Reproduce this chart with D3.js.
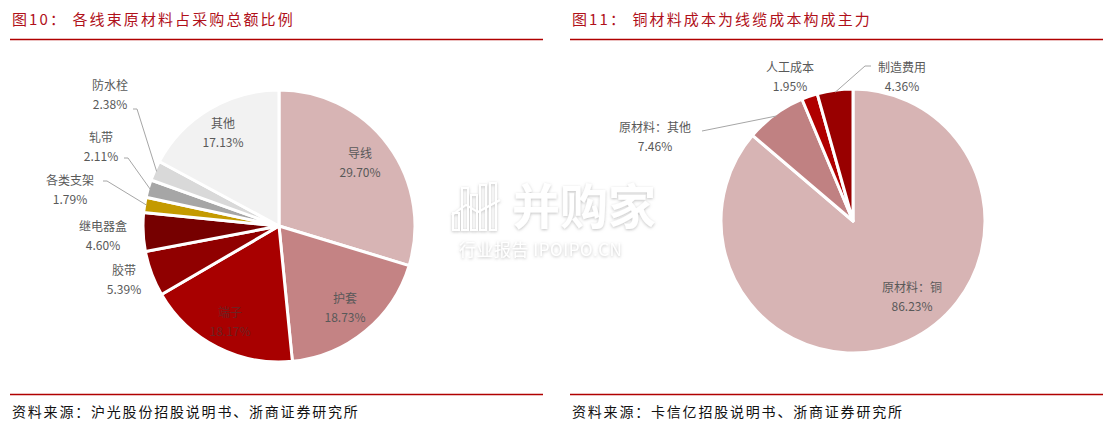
<!DOCTYPE html>
<html><head><meta charset="utf-8">
<script src="https://cdn.jsdelivr.net/npm/d3@7"></script>
<style>
html,body{margin:0;padding:0;background:#fff;}
svg{display:block;}
</style></head>
<body>
<svg id="c" width="1110" height="431"></svg>
<script>
// ---- Data ----
const leftTitle = "图10：  各线束原材料占采购总额比例";
const rightTitle = "图11：  铜材料成本为线缆成本构成主力";
const leftSource = "资料来源：沪光股份招股说明书、浙商证券研究所";
const rightSource = "资料来源：卡信亿招股说明书、浙商证券研究所";

const leftCategories = ["导线","护套","端子","胶带","继电器盒","各类支架","轧带","防水栓","其他"];
const leftValues = [29.70, 18.73, 18.17, 5.39, 4.60, 1.79, 2.11, 2.38, 17.13];
const leftColors = ["#d7b4b4","#c48384","#a80000","#900000","#760000","#c49a00","#a6a6a6","#d9d9d9","#f2f2f2"];

const rightCategories = ["原材料：铜","原材料：其他","人工成本","制造费用"];
const rightValues = [86.23, 7.46, 1.95, 4.36];
const rightColors = ["#d7b4b4","#c08182","#b00000","#990000"];

// ---- Layout ----
const svg = d3.select("#c");
const titleColor = "#b0101a";
const lineColor = "#b00000";
const labelColor = "#595959";
const cjk = "'Noto Sans CJK SC','Noto Sans',sans-serif";

function panel(x0, x1, title, source) {
  svg.append("text").attr("x", x0 + 2).attr("y", 25)
    .attr("font-family", cjk).attr("font-size", 15).attr("letter-spacing", 2.1)
    .attr("fill", titleColor).text(title);
  svg.append("line").attr("x1", x0).attr("x2", x1).attr("y1", 39.5).attr("y2", 39.5)
    .attr("stroke", lineColor).attr("stroke-width", 1.3);
  svg.append("line").attr("x1", x0).attr("x2", x1).attr("y1", 394.5).attr("y2", 394.5)
    .attr("stroke", lineColor).attr("stroke-width", 1.3);
  svg.append("text").attr("x", x0 + 2).attr("y", 417)
    .attr("font-family", cjk).attr("font-size", 14).attr("letter-spacing", 1.8)
    .attr("fill", "#111").text(source);
}
panel(10, 543, leftTitle, leftSource);
panel(570, 1103, rightTitle, rightSource);

function drawPie(cx, cy, r, cats, vals, colors, labels) {
  const pie = d3.pie().sort(null).value(d => d)(vals);
  const arc = d3.arc().innerRadius(0).outerRadius(r);
  const g = svg.append("g").attr("transform", `translate(${cx},${cy})`);
  g.selectAll("path").data(pie).join("path")
    .attr("d", arc).attr("fill", (d, i) => colors[i])
    .attr("stroke", "#fff").attr("stroke-width", 3).attr("stroke-linejoin", "round");
  pie.forEach((d, i) => {
    const L = labels[cats[i]];
    if (!L) return;
    const pct = vals[i].toFixed(2) + "%";
    const t = svg.append("text").attr("font-family", cjk).attr("font-size", 12)
      .attr("fill", L.color || labelColor).attr("text-anchor", "middle");
    t.append("tspan").attr("x", L.x).attr("y", L.y).text(cats[i]);
    t.append("tspan").attr("x", L.x).attr("y", L.y + 19).text(pct);
    if (L.leader) {
      const a = (d.startAngle + d.endAngle) / 2;
      const ex = cx + (r - 2) * Math.sin(a), ey = cy - (r - 2) * Math.cos(a);
      const [lx, ly] = L.leader;
      svg.append("path")
        .attr("d", `M${lx},${ly}L${lx + (L.hook || 0)},${ly}L${ex},${ey}`)
        .attr("fill", "none").attr("stroke", "#a6a6a6").attr("stroke-width", 1);
    }
  });
}

const leftLabels = {
  "导线": {x: 360, y: 158},
  "护套": {x: 345, y: 303},
  "端子": {x: 230, y: 317, color: "#6e2222"},
  "胶带": {x: 124, y: 275},
  "继电器盒": {x: 103, y: 231},
  "各类支架": {x: 70, y: 185, leader: [103, 181], hook: 4},
  "轧带": {x: 101, y: 142, leader: [124, 158], hook: 4},
  "防水栓": {x: 110, y: 90, leader: [133, 109], hook: 4},
  "其他": {x: 223, y: 128}
};
drawPie(279, 226, 136, leftCategories, leftValues, leftColors, leftLabels);

const rightLabels = {
  "原材料：铜": {x: 912, y: 292},
  "原材料：其他": {x: 655, y: 132, leader: [702, 131], hook: 0},
  "人工成本": {x: 790, y: 72},
  "制造费用": {x: 902, y: 72, leader: [871, 66], hook: -6}
};
drawPie(853, 221, 132, rightCategories, rightValues, rightColors, rightLabels);

// ---- Watermark ----
const defs = svg.append("defs");
const f = defs.append("filter").attr("id", "sh").attr("x", "-20%").attr("y", "-20%").attr("width", "140%").attr("height", "140%");
f.append("feDropShadow").attr("dx", 0).attr("dy", 1).attr("stdDeviation", 1.5).attr("flood-color", "#999").attr("flood-opacity", 0.6);
const wm = svg.append("g").attr("filter", "url(#sh)");
const bars = [[453, 213, 6, 17], [462, 188, 6, 42], [471, 195, 6, 35], [480, 185, 6, 45], [490, 183, 6, 47]];
bars.forEach(b => wm.append("rect").attr("x", b[0]).attr("y", b[1]).attr("width", b[2]).attr("height", b[3])
  .attr("fill", "none").attr("stroke", "#fff").attr("stroke-width", 2));
wm.append("path").attr("d", "M452,215L466,205L478,212L500,200").attr("fill", "none").attr("stroke", "#fff").attr("stroke-width", 2);
wm.append("text").attr("x", 512).attr("y", 224).attr("font-family", cjk).attr("font-size", 48).attr("font-weight", 700)
  .attr("fill", "#fff").text("并购家");
wm.append("text").attr("x", 459).attr("y", 256).attr("font-family", cjk).attr("font-size", 17).attr("letter-spacing", 0.5)
  .attr("fill", "#fff").text("行业报告 IPOIPO.CN");
</script>
</body></html>
